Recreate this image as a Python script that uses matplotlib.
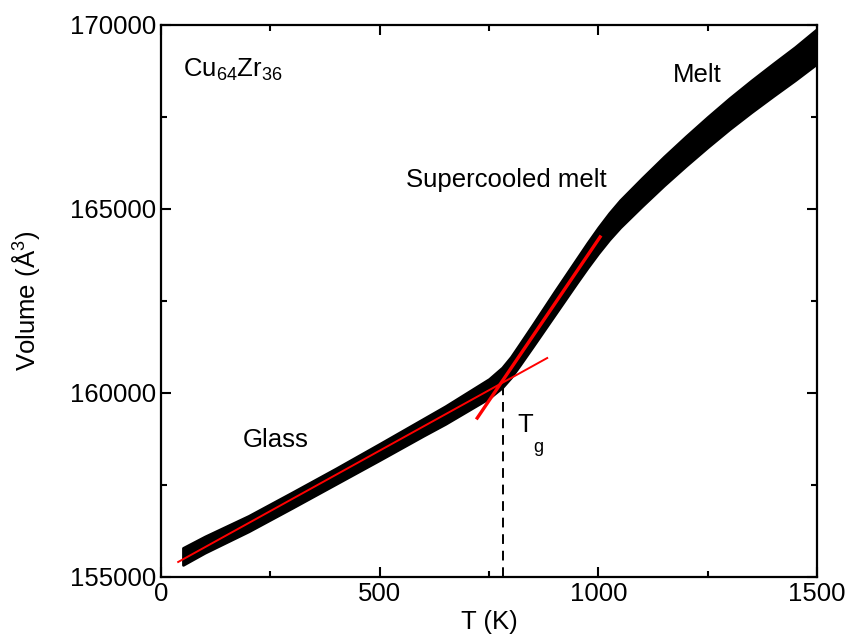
import numpy as np
import matplotlib.pyplot as plt

plt.rcParams['font.family'] = ['Liberation Sans', 'DejaVu Sans']
plt.rcParams['mathtext.fontset'] = 'custom'
plt.rcParams['mathtext.rm'] = 'Liberation Sans'
plt.rcParams['mathtext.it'] = 'Liberation Sans'

# MD volume vs temperature (centre of the noisy band and its half-width)
T = [50, 100, 200, 300, 400, 500, 600, 650, 700, 750, 780, 800, 820, 850,
     900, 950, 975, 1000, 1025, 1050, 1100, 1150, 1200, 1250, 1300, 1350,
     1400, 1450, 1500]
V_mid = [155560, 155880, 156450, 157090, 157740, 158400, 159070, 159400,
         159760, 160120, 160420, 160700, 161040, 161560, 162440, 163310,
         163740, 164150, 164530, 164870, 165460, 166030, 166570, 167090,
         167590, 168060, 168510, 168950, 169420]
V_half = [230, 220, 210, 210, 210, 220, 230, 240, 250, 260, 270, 280, 290,
          300, 320, 330, 340, 350, 360, 370, 380, 390, 400, 410, 420, 430,
          440, 450, 470]

# linear fits
glass_T = [39, 883]
glass_V = [155408, 160950]
scl_T = [723, 1004]
scl_V = [159320, 164240]
Tg = 782
Vg = 160220

fig = plt.figure(figsize=(8.48, 6.37), dpi=100)
ax = fig.add_axes([0.190, 0.0942, 0.7734, 0.8666])

lo = np.array(V_mid) - np.array(V_half)
hi = np.array(V_mid) + np.array(V_half)
ax.fill_between(T, lo, hi, color='k', lw=2, edgecolor='k', joinstyle='round')

ax.plot(glass_T, glass_V, color='red', lw=1.4)
ax.plot(scl_T, scl_V, color='red', lw=2.4)
ax.plot([Tg, Tg], [155000, Vg], color='k', lw=1.4, ls=(0, (5, 3.5)))

fs = 18.5
ax.text(50, 168780, r'Cu$_{64}$Zr$_{36}$', fontsize=fs, va='center', ha='left')
ax.text(789, 165790, 'Supercooled melt', fontsize=fs, va='center', ha='center')
ax.text(1226, 168640, 'Melt', fontsize=fs, va='center', ha='center')
ax.text(261, 158720, 'Glass', fontsize=fs, va='center', ha='center')
ax.text(815, 159130, 'T', fontsize=fs, va='center', ha='left')
ax.text(852, 158530, 'g', fontsize=13, va='center', ha='left')

ax.set_xlim(0, 1500)
ax.set_ylim(155000, 170000)
ax.set_xticks([0, 500, 1000, 1500])
ax.set_xticks([250, 750, 1250], minor=True)
ax.set_yticks([155000, 160000, 165000, 170000])
ax.set_yticks([157500, 162500, 167500], minor=True)
ax.tick_params(which='both', direction='in', top=True, right=True,
               labelsize=fs, width=1.5)
ax.tick_params(which='major', length=7)
ax.tick_params(which='minor', length=4)
for s in ax.spines.values():
    s.set_linewidth(1.6)

ax.set_xlabel('T (K)', fontsize=fs, labelpad=3)
ax.set_ylabel(r'Volume ($\mathregular{\AA^3}$)', fontsize=fs, labelpad=20)

fig.savefig('out.png', dpi=100)
